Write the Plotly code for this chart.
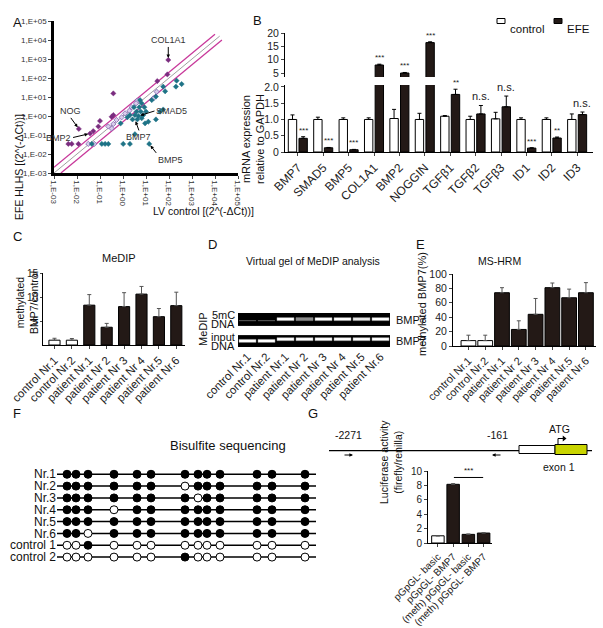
import math
import plotly.graph_objects as go

W, H = 603, 628
FONT = "Liberation Sans, Arial, sans-serif"
DARK = "#231916"

# ---------------- Panel A data: 2^(-dCt) values ----------------
a_purple_x = [93, 85, 31, 0.38, 0.32, 0.38, 0.10, 0.085, 0.051, 0.037, 0.012, 0.0042, 0.0059, 0.0115]
a_purple_y = [890, 155, 69, 15.5, 0.91, 1.12, 0.55, 0.28, 0.16, 0.12, 0.21, 0.034, 0.034, 0.034]
a_teal_x = [214, 355, 200, 56, 68, 27, 17.8, 56, 41, 27, 5.5, 6.5, 3.0, 5.1, 8.5, 3.9, 5.9, 10,
            2.0, 3.3, 4.7, 7.6, 1.55, 2.6, 4.2, 6.5, 0.79, 3.3, 0.044, 0.12, 0.166, 0.23, 1.02,
            2.0, 13.8, 12.6, 9.1]
a_teal_y = [72, 48, 35, 35, 20, 10.5, 6.9, 2.2, 1.7, 0.66, 6.9, 4.7, 2.9, 2.9, 2.9, 1.7, 1.7, 1.7,
            1.12, 1.12, 1.0, 1.12, 0.85, 0.66, 0.66, 0.76, 0.41, 0.11, 0.034, 0.034, 0.034, 0.034,
            0.034, 0.034, 0.034, 0.5, 0.41]
a_light_x = [29, 21, 4.2, 3.7, 2.4, 1.9, 1.23, 0.87, 0.52, 0.38, 0.32, 0.23, 0.031, 0.056]
a_light_y = [19, 8.5, 6.5, 4.7, 2.9, 1.9, 1.38, 0.85, 0.62, 0.38, 0.22, 0.28, 0.034, 0.034]
a_fold = 2
a_ticks = [1e-3, 1e-2, 1e-1, 1e0, 1e1, 1e2, 1e3, 1e4, 1e5]
a_ticktext = ["1,E-03", "1,E-02", "1,E-01", "1,E+00", "1,E+01", "1,E+02", "1,E+03", "1,E+04", "1,E+05"]
a_labels = ["COL1A1", "NOG", "BMP2", "SMAD5", "BMP7", "BMP5"]
a_label_x = [93, 0.012, 0.037, 4.7, 3.3, 13.8]
a_label_y = [890, 0.21, 0.12, 1.0, 0.66, 0.034]

# ---------------- Panel B data ----------------
b_genes = ["BMP7", "SMAD5", "BMP5", "COL1A1", "BMP2", "NOGGIN", "TGFβ1", "TGFβ2", "TGFβ3", "ID1", "ID2", "ID3"]
b_ctrl = [1.0, 1.0, 1.0, 1.0, 1.03, 1.0, 1.1, 1.0, 1.02, 1.0, 1.0, 1.0]
b_ctrl_err = [0.14, 0.07, 0.05, 0.05, 0.28, 0.19, 0.02, 0.1, 0.2, 0.05, 0.05, 0.17]
b_efe = [0.42, 0.13, 0.07, 8.0, 5.0, 16.4, 1.77, 1.17, 1.39, 0.12, 0.43, 1.15]
b_efe_err = [0.05, 0.01, 0.01, 0.3, 0.2, 0.3, 0.16, 0.26, 0.33, 0.01, 0.03, 0.08]
b_sig = ["***", "***", "***", "***", "***", "***", "**", "n.s.", "n.s.", "***", "**", "n.s."]

# ---------------- Panel C data ----------------
samples = ["control Nr.1", "control Nr.2", "patient Nr.1", "patient Nr 2", "patient Nr 3",
           "patient Nr 4", "patient Nr.5", "patient Nr.6"]
c_vals = [1.0, 1.0, 8.3, 3.7, 8.0, 10.6, 5.9, 8.2]
c_err = [0.4, 0.35, 2.2, 0.8, 2.9, 1.6, 1.7, 2.8]

# ---------------- Panel D data (band intensity) ----------------
d_medip = [0, 0, 1, 0.55, 1, 1, 0.9, 1]
d_input = [1, 1, 1, 1, 1, 1, 1, 1]
d_input_shift = [0, 0, 1, 1, 1, 1, 1, 1]

# ---------------- Panel E data ----------------
e_vals = [7.5, 7.5, 74, 23, 44, 81, 67, 74]
e_err = [7.5, 7.5, 7, 12, 22, 6.5, 12, 14]

# ---------------- Panel F data ----------------
f_rows = ["Nr.1", "Nr.2", "Nr.3", "Nr.4", "Nr.5", "Nr.6", "control 1", "control 2"]
f_cpg = [10, 19, 31, 57, 80, 94, 128, 141, 150, 163, 200, 215, 248]
f_len = 259
f_meth = [
    [1, 1, 1, 1, 1, 1, 1, 1, 1, 1, 1, 1, 1],
    [1, 1, 1, 1, 1, 1, 0, 1, 1, 1, 1, 1, 1],
    [1, 1, 1, 1, 1, 1, 1, 0, 1, 1, 1, 1, 1],
    [1, 1, 1, 0, 1, 1, 1, 1, 1, 1, 1, 1, 1],
    [1, 1, 1, 1, 1, 1, 1, 1, 1, 1, 1, 1, 1],
    [1, 1, 0, 1, 1, 1, 1, 1, 1, 1, 1, 1, 1],
    [0, 0, 1, 0, 0, 0, 0, 0, 0, 0, 0, 0, 0],
    [0, 0, 0, 0, 0, 0, 1, 0, 0, 0, 0, 0, 0],
]

# ---------------- Panel G data ----------------
g_constructs = ["pGpGL- basic", "pGpGL- BMP7", "(meth) pGpGL- basic", "(meth) pGpGL- BMP7"]
g_vals = [1.0, 8.15, 1.2, 1.38]
g_err = [0.0, 0.1, 0.05, 0.05]
g_primer_labels = ["-2271", "-161"]


def xdom(a, b):
    return [a / W, b / W]


def ydom(top, bottom):
    return [1 - bottom / H, 1 - top / H]


def px(x):
    return x / W


def py(y):
    return 1 - y / H


fig = go.Figure()
ann = []
shapes = []

# ================= Panel A =================
lx = [1e-3, 1.6e4]
fig.add_trace(go.Scatter(x=lx, y=lx, mode="lines", line=dict(color="#a0a0a0", width=1),
                         xaxis="x", yaxis="y", showlegend=False))
fig.add_trace(go.Scatter(x=[1e-3, 1e4], y=[1e-3 * a_fold, 1e4 * a_fold], mode="lines",
                         line=dict(color="#c8389a", width=1.3), xaxis="x", yaxis="y", showlegend=False))
fig.add_trace(go.Scatter(x=[1e-3 * a_fold, 2e4], y=[1e-3, 2e4 / a_fold], mode="lines",
                         line=dict(color="#c8389a", width=1.3), xaxis="x", yaxis="y", showlegend=False))
fig.add_trace(go.Scatter(x=a_light_x, y=a_light_y, mode="markers", xaxis="x", yaxis="y", showlegend=False,
                         marker=dict(symbol="diamond", size=4, color="#d9cdea",
                                     line=dict(color="#7f62b0", width=0.8))))
fig.add_trace(go.Scatter(x=a_teal_x, y=a_teal_y, mode="markers", xaxis="x", yaxis="y", showlegend=False,
                         marker=dict(symbol="diamond", size=4, color="#1e7386",
                                     line=dict(color="#1e7386", width=0.5))))
fig.add_trace(go.Scatter(x=a_purple_x, y=a_purple_y, mode="markers", xaxis="x", yaxis="y", showlegend=False,
                         marker=dict(symbol="diamond", size=4, color="#7a2c7f",
                                     line=dict(color="#7a2c7f", width=0.5))))
a_offsets = [(0, -13), (-8, -11), (-17, 4), (16, -5), (4, 11), (7, 9)]
a_anchor = [("center", "bottom"), ("center", "bottom"), ("right", "middle"),
            ("left", "middle"), ("center", "top"), ("left", "top")]
for lab, x, y, (ox, oy), (xa, ya) in zip(a_labels, a_label_x, a_label_y, a_offsets, a_anchor):
    ann.append(dict(x=math.log10(x), y=math.log10(y), xref="x", yref="y", text=lab, showarrow=True,
                    ax=ox, ay=oy, arrowhead=2, arrowsize=0.7, arrowwidth=1, arrowcolor="black",
                    standoff=2, font=dict(size=9, color="#333"), xanchor=xa, yanchor=ya))

axA = dict(showline=True, linewidth=2.5, linecolor="black", ticks="outside", ticklen=3,
           tickwidth=1, showgrid=False, zeroline=False, type="log", range=[-3, 5], automargin=False,
           tickvals=a_ticks, ticktext=a_ticktext, tickfont=dict(size=8, color="#333"))
fig.update_layout(
    xaxis=dict(axA, domain=xdom(54, 238), anchor="y", tickangle=90),
    yaxis=dict(axA, domain=ydom(21, 173), anchor="x"),
)
ann.append(dict(x=px(11), y=py(112), xref="paper", yref="paper", text="EFE HLHS [(2^(-ΔCt))]",
                textangle=-90, showarrow=False, font=dict(size=10.5)))
ann.append(dict(x=px(151), y=py(211), xref="paper", yref="paper", text="LV control [(2^(-ΔCt))]",
                showarrow=False, font=dict(size=10.5)))

# ================= Panel B =================
bx = list(range(len(b_genes)))
ctrl_off, efe_off, bw = -0.38, 0.04, 0.33
eb = dict(color="black", thickness=1, width=2)
for yax in ("y2", "y3"):
    fig.add_trace(go.Bar(x=bx, y=b_ctrl, name="control", xaxis="x2", yaxis=yax, offset=ctrl_off, width=bw,
                         marker=dict(color="white", line=dict(color="black", width=1)),
                         error_y=dict(type="data", array=b_ctrl_err, arrayminus=[0] * 12, symmetric=False, **eb),
                         showlegend=False))
    fig.add_trace(go.Bar(x=bx, y=b_efe, name="EFE", xaxis="x2", yaxis=yax, offset=efe_off, width=bw,
                         marker=dict(color=DARK, line=dict(color="black", width=1)),
                         error_y=dict(type="data", array=b_efe_err, arrayminus=[0] * 12, symmetric=False, **eb),
                         showlegend=False))
for i, s in enumerate(b_sig):
    top = max(b_efe[i] + b_efe_err[i], b_ctrl[i] + b_ctrl_err[i]) if s == "n.s." else b_efe[i] + b_efe_err[i]
    yref = "y3" if top > 2.0 else "y2"
    ann.append(dict(x=i + efe_off + bw / 2, y=top, xref="x2", yref=yref, text=s, showarrow=False,
                    yanchor="bottom", yshift=0 if s != "n.s." else 1,
                    font=dict(size=8 if s != "n.s." else 11, color="#222")))
axB = dict(showline=True, linewidth=1, linecolor="black", ticks="outside", ticklen=3, tickwidth=1,
           showgrid=False, zeroline=False, automargin=False, tickfont=dict(size=10.5, color="#222"))
fig.update_layout(
    xaxis2=dict(axB, domain=xdom(285, 593), anchor="y2", range=[-0.51, 11.62], tickvals=bx,
                ticktext=b_genes, tickangle=-45, tickfont=dict(size=12, color="#222")),
    yaxis2=dict(axB, domain=ydom(85, 152), anchor="x2", range=[0, 2.06],
                tickvals=[0, 0.5, 1, 1.5, 2], ticktext=["0", "0.5", "1.0", "1.5", "2.0"]),
    yaxis3=dict(axB, domain=ydom(33, 77), anchor="x2", range=[3.5, 20], tickvals=[5, 10, 15, 20]),
)
ann.append(dict(x=px(253), y=py(92), xref="paper", yref="paper",
                text="mRNA expression<br>relative to GAPDH", textangle=-90, showarrow=False,
                font=dict(size=11)))
# legend (manual, compact)
for lab, x0, col in (("control", 497, "white"), ("EFE", 554, DARK)):
    shapes.append(dict(type="rect", xref="paper", yref="paper", x0=px(x0), x1=px(x0 + 8),
                       y0=py(23.5), y1=py(18.5), fillcolor=col, line=dict(color="black", width=1)))
    ann.append(dict(x=px(x0 + 10.5), y=py(20.5), xref="paper", yref="paper", text=lab, showarrow=False,
                    xanchor="left", font=dict(size=11.5)))

# ================= Panel C =================
sx = list(range(len(samples)))
colors_s = ["white", "white"] + [DARK] * 6
fig.add_trace(go.Bar(x=sx, y=c_vals, xaxis="x3", yaxis="y4", width=0.64, showlegend=False,
                     marker=dict(color=colors_s, line=dict(color="black", width=1)),
                     error_y=dict(type="data", array=c_err, arrayminus=[0] * 8, symmetric=False,
                                  color="#555", thickness=1, width=2)))
axS = dict(showline=True, linewidth=1, linecolor="black", ticks="outside", ticklen=3, tickwidth=1,
           showgrid=False, zeroline=False, automargin=False, tickfont=dict(size=10.5, color="#222"))
fig.update_layout(
    xaxis3=dict(axS, domain=xdom(43, 185), anchor="y4", range=[-0.66, 7.5], tickvals=sx,
                ticktext=samples, tickangle=-45, tickfont=dict(size=11.5, color="#222")),
    yaxis4=dict(axS, domain=ydom(273, 345), anchor="x3", range=[0, 15], tickvals=[5, 10, 15],
                ticklen=2, tickfont=dict(size=10, color="#222")),
)
ann.append(dict(x=px(12), y=py(303), xref="paper", yref="paper", text="methylated<br>BMP7/control",
                textangle=-90, showarrow=False, font=dict(size=10.5)))
ann.append(dict(x=px(100), y=py(258), xref="paper", yref="paper", text="MeDIP", showarrow=False,
                font=dict(size=11)))

# ================= Panel D (virtual gel) =================
top_lo, top_hi = 0.62, 1.0
bot_lo, bot_hi = 0.0, 0.35
fig.add_trace(go.Bar(x=sx, y=[top_hi - top_lo] * 8, base=[top_lo] * 8, width=1.0, xaxis="x4", yaxis="y5",
                     marker=dict(color="black", line=dict(width=0)), showlegend=False, hoverinfo="skip"))
fig.add_trace(go.Bar(x=sx, y=[bot_hi - bot_lo] * 8, base=[bot_lo] * 8, width=1.0, xaxis="x4", yaxis="y5",
                     marker=dict(color="black", line=dict(width=0)), showlegend=False, hoverinfo="skip"))
band_cols = ["rgba(255,255,255,%.2f)" % v for v in d_medip]
fig.add_trace(go.Bar(x=sx, y=[0.09 if v > 0 else 0 for v in d_medip], base=[0.775] * 8, width=0.9,
                     xaxis="x4", yaxis="y5", showlegend=False, hoverinfo="skip",
                     marker=dict(color=band_cols, line=dict(color="rgba(140,140,140,0.5)", width=0.8))))
fig.add_trace(go.Bar(x=sx, y=[0.09 * v for v in d_input], base=[0.135 + 0.05 * s for s in d_input_shift],
                     width=0.9, xaxis="x4", yaxis="y5", showlegend=False, hoverinfo="skip",
                     marker=dict(color="white", line=dict(color="rgba(140,140,140,0.5)", width=0.8))))
fig.update_layout(
    xaxis4=dict(domain=xdom(238, 390), anchor="y5", range=[-0.5, 7.5], tickvals=sx, ticktext=samples,
                tickangle=-45, showline=False, ticks="", showgrid=False, zeroline=False, automargin=False,
                tickfont=dict(size=11.5, color="#222")),
    yaxis5=dict(domain=ydom(313, 347), anchor="x4", range=[0, 1], visible=False, automargin=False),
)
ann.append(dict(x=px(313), y=py(261), xref="paper", yref="paper", text="Virtual gel of MeDIP analysis",
                showarrow=False, font=dict(size=10.5)))
for txt, yy in (("5mC", 315), ("DNA", 324), ("input", 336.5), ("DNA", 345.5)):
    ann.append(dict(x=px(237), y=py(yy), xref="paper", yref="paper", text=txt, showarrow=False,
                    xanchor="right", font=dict(size=11)))
ann.append(dict(x=px(203), y=py(329), xref="paper", yref="paper", text="MeDIP", textangle=-90,
                showarrow=False, font=dict(size=11)))
for yy in (319.5, 341):
    ann.append(dict(x=px(394), y=py(yy), xref="paper", yref="paper", text="BMP7", showarrow=False,
                    xanchor="left", font=dict(size=11)))

# ================= Panel E =================
fig.add_trace(go.Bar(x=sx, y=e_vals, xaxis="x5", yaxis="y6", width=0.88, showlegend=False,
                     marker=dict(color=colors_s, line=dict(color="black", width=1)),
                     error_y=dict(type="data", array=e_err, arrayminus=[0] * 8, symmetric=False,
                                  color="#555", thickness=1, width=2)))
fig.update_layout(
    xaxis5=dict(axS, domain=xdom(453, 596), anchor="y6", range=[-0.92, 7.6], tickvals=sx,
                ticktext=samples, tickangle=-45, tickfont=dict(size=11, color="#222")),
    yaxis6=dict(axS, domain=ydom(274, 346), anchor="x5", range=[0, 100], tickvals=[0, 20, 40, 60, 80, 100]),
)
ann.append(dict(x=px(430), y=py(304), xref="paper", yref="paper", text="methylated BMP7(%)",
                textangle=-90, showarrow=False, font=dict(size=11)))
ann.append(dict(x=px(523), y=py(261), xref="paper", yref="paper", text="MS-HRM", showarrow=False,
                font=dict(size=10.5)))

# ================= Panel F (bisulfite) =================
for r in range(len(f_rows)):
    fig.add_trace(go.Scatter(x=[0, f_len], y=[r, r], mode="lines", line=dict(color="black", width=1.5),
                             xaxis="x6", yaxis="y7", showlegend=False, hoverinfo="skip"))
fx_f, fy_f, fx_o, fy_o = [], [], [], []
for r, row in enumerate(f_meth):
    for c, m in zip(f_cpg, row):
        if m:
            fx_f.append(c); fy_f.append(r)
        else:
            fx_o.append(c); fy_o.append(r)
fig.add_trace(go.Scatter(x=fx_f, y=fy_f, mode="markers", xaxis="x6", yaxis="y7", showlegend=False,
                         marker=dict(symbol="circle", size=8, color="black", line=dict(color="black", width=1))))
fig.add_trace(go.Scatter(x=fx_o, y=fy_o, mode="markers", xaxis="x6", yaxis="y7", showlegend=False,
                         marker=dict(symbol="circle", size=8, color="white", line=dict(color="black", width=1))))
fig.update_layout(
    xaxis6=dict(domain=xdom(57, 316), anchor="y7", range=[0, f_len], visible=False, automargin=False),
    yaxis7=dict(domain=ydom(468, 563), anchor="x6", range=[7.5, -0.53], tickvals=list(range(8)),
                ticktext=f_rows, showline=False, ticks="", showgrid=False, zeroline=False, automargin=False,
                tickfont=dict(size=12, color="#111")),
)
ann.append(dict(x=px(168), y=py(455), xref="paper", yref="paper", text="Bisulfite sequencing",
                showarrow=False, font=dict(size=13)))

# ================= Panel G (promoter schematic) =================
g_line = [0, 263]
g_primer_x = [19, 168]
g_utr = [190, 226]
g_exon = [226, 258]
fig.add_trace(go.Scatter(x=g_line, y=[19.3, 19.3], mode="lines", line=dict(color="black", width=1.2),
                         xaxis="x7", yaxis="y8", showlegend=False, hoverinfo="skip"))
shapes.append(dict(type="rect", xref="x7", yref="y8", x0=g_utr[0], x1=g_utr[1], y0=16.5, y1=24.5,
                   fillcolor="white", line=dict(color="black", width=1)))
shapes.append(dict(type="rect", xref="x7", yref="y8", x0=g_exon[0], x1=g_exon[1], y0=15.5, y1=25.5,
                   fillcolor="#c9d400", line=dict(color="black", width=1)))
fig.add_trace(go.Scatter(x=[g_exon[0] + 3, g_exon[0] + 3, g_exon[0] + 8], y=[25.5, 31.5, 31.5], mode="lines",
                         line=dict(color="black", width=1), xaxis="x7", yaxis="y8", showlegend=False))
fig.add_trace(go.Scatter(x=[g_exon[0] + 9], y=[31.5], mode="markers", xaxis="x7", yaxis="y8", showlegend=False,
                         marker=dict(symbol="triangle-right", size=5, color="black")))
for xp, lab, d in zip(g_primer_x, g_primer_labels, (1, -1)):
    ann.append(dict(x=xp + 5 * d, y=15, ax=xp - 5 * d, ay=15, xref="x7", yref="y8", axref="x7", ayref="y8",
                    text="", showarrow=True, arrowhead=2, arrowsize=0.6, arrowwidth=1.2, arrowcolor="black"))
    ann.append(dict(x=xp, y=27, xref="x7", yref="y8", text=lab, showarrow=False, yanchor="bottom",
                    font=dict(size=10.5)))
ann.append(dict(x=g_exon[0] + 4, y=33, xref="x7", yref="y8", text="ATG", showarrow=False, yanchor="bottom",
                font=dict(size=10.5)))
ann.append(dict(x=g_exon[0] + 4, y=11, xref="x7", yref="y8", text="exon 1", showarrow=False, yanchor="top",
                font=dict(size=10.5)))
fig.update_layout(
    xaxis7=dict(domain=xdom(329, 592), anchor="y8", range=[0, 263], visible=False, automargin=False),
    yaxis8=dict(domain=ydom(430, 470), anchor="x7", range=[0, 40], visible=False, automargin=False),
)

# ================= Panel G (luciferase) =================
gx = list(range(len(g_constructs)))
fig.add_trace(go.Bar(x=gx, y=g_vals, xaxis="x8", yaxis="y9", width=0.82, showlegend=False,
                     marker=dict(color=["white", DARK, DARK, DARK], line=dict(color="black", width=1)),
                     error_y=dict(type="data", array=g_err, arrayminus=[0] * 4, symmetric=False,
                                  color="#555", thickness=1, width=2)))
fig.add_trace(go.Scatter(x=[1.05, 2.97], y=[9.1, 9.1], mode="lines", line=dict(color="black", width=1),
                         xaxis="x8", yaxis="y9", showlegend=False))
ann.append(dict(x=2.0, y=9.1, xref="x8", yref="y9", text="***", showarrow=False, yanchor="bottom",
                font=dict(size=8)))
fig.update_layout(
    xaxis8=dict(axS, domain=xdom(428, 492), anchor="y9", range=[-0.65, 3.55], tickvals=gx,
                ticktext=g_constructs, tickangle=-45, tickfont=dict(size=10, color="#222")),
    yaxis9=dict(axS, domain=ydom(471, 543), anchor="x8", range=[0, 10], tickvals=[0, 2, 4, 6, 8, 10],
                tickfont=dict(size=10, color="#222")),
)
ann.append(dict(x=px(406), y=py(506), xref="paper", yref="paper",
                text="Luciferase activity<br>(firefly/renilla)", textangle=-90, showarrow=False,
                font=dict(size=10.5)))

# ================= Panel letters =================
for lab, x, y in (("A", 11, 13), ("B", 257, 11), ("C", 11, 236), ("D", 212, 245), ("E", 427, 245),
                  ("F", 11, 423), ("G", 313, 423)):
    ann.append(dict(x=px(x), y=py(y), xref="paper", yref="paper", text=lab, showarrow=False,
                    font=dict(size=13)))

fig.update_layout(
    template="none",
    width=W, height=H, margin=dict(l=0, r=0, t=0, b=0, autoexpand=False),
    paper_bgcolor="white", plot_bgcolor="rgba(0,0,0,0)",
    font=dict(family=FONT, size=10.5, color="#111"),
    barmode="overlay", showlegend=False, hovermode=False,
    annotations=ann, shapes=shapes,
)

fig.write_html("out.html", config={"displayModeBar": False},
               post_script="document.body.style.margin='0';document.body.style.padding='0';")
